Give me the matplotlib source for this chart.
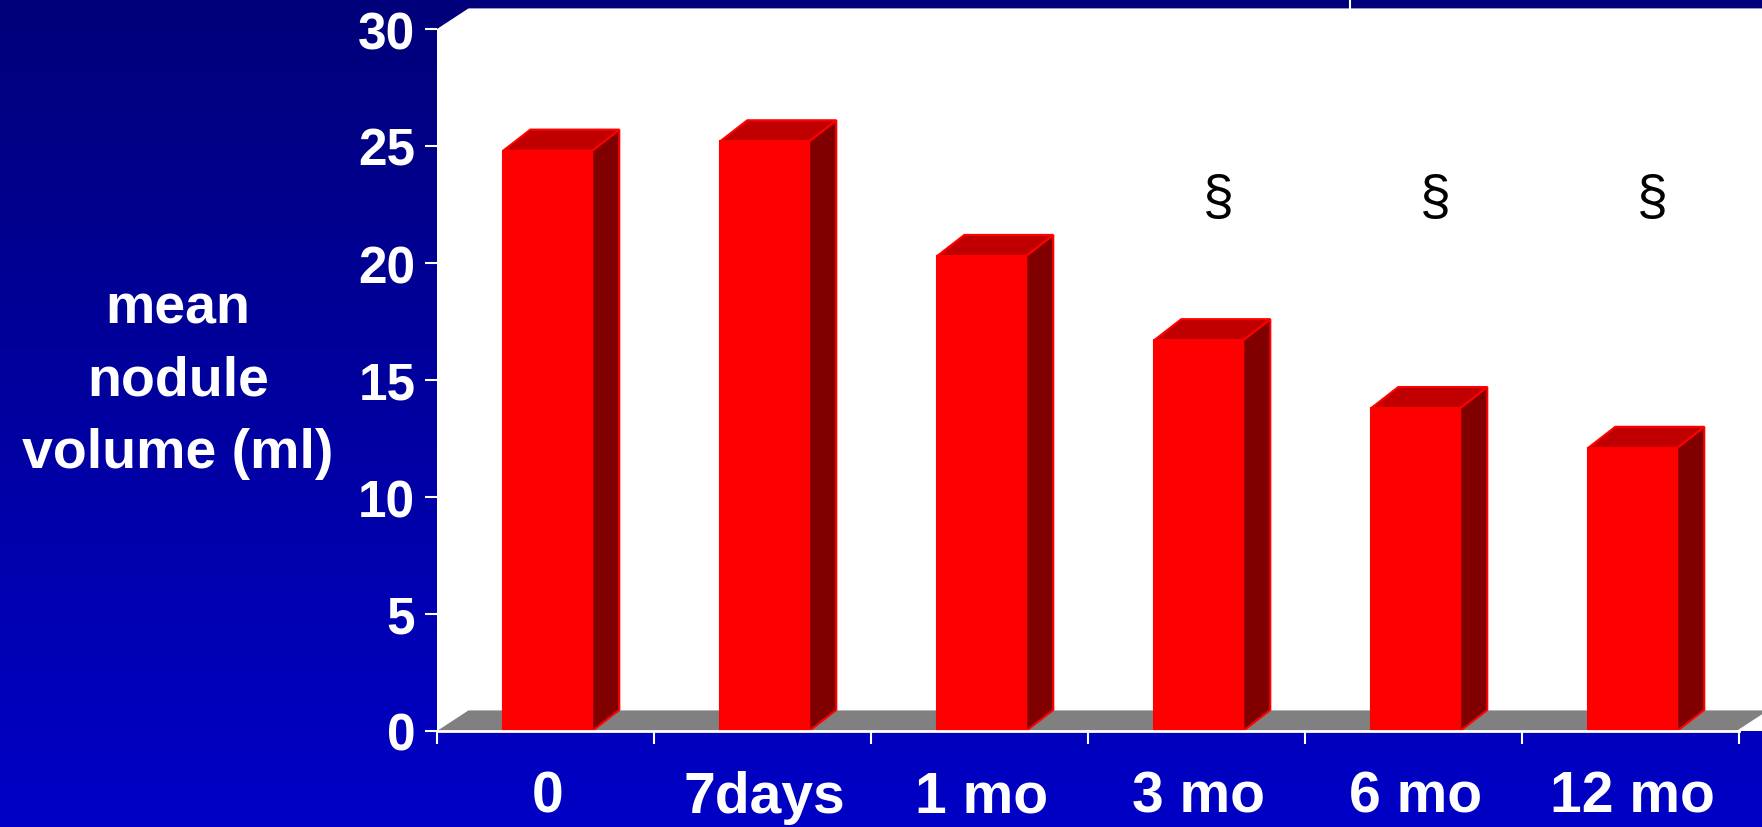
import numpy as np
import matplotlib.pyplot as plt
from matplotlib.patches import Polygon
from matplotlib.colors import LinearSegmentedColormap

categories = ['0', '7days', '1 mo', '3 mo', '6 mo', '12 mo']
volumes = [24.8, 25.2, 20.3, 16.7, 13.8, 12.1]
significant = [False, False, False, True, True, True]
y_ticks = [0, 5, 10, 15, 20, 25, 30]

plt.rcParams['font.family'] = ['Liberation Sans', 'DejaVu Sans']

# pseudo-3D offsets (data units)
WALL_DX, WALL_DY = 0.145, 0.88
BAR_DX, BAR_DY = 0.125, 0.9
BAR_LEFT, BAR_W = 0.305, 0.41

fig = plt.figure(figsize=(17.62, 8.28), dpi=100)

# slide background: dark navy fading to brighter blue
bg = fig.add_axes([0, 0, 1, 1], zorder=-10)
cmap = LinearSegmentedColormap.from_list('slide', ['#00007a', '#0000c6'])
bg.imshow(np.linspace(0, 1, 256).reshape(-1, 1), aspect='auto', cmap=cmap,
          extent=[0, 1, 0, 1], origin='upper')
bg.axis('off')
fig.add_artist(plt.Line2D([0.766, 0.766], [1.0, 1 - 9 / 828], color='white', lw=1.5))

ax = fig.add_axes([437 / 1762, 96 / 828, 1302 / 1762, 702 / 828])
ax.set_xlim(0, len(categories))
ax.set_ylim(0, 30)
ax.patch.set_visible(False)

n = len(categories)
# back wall and floor
ax.add_patch(Polygon([(0, 0), (0, 30), (WALL_DX, 30 + WALL_DY), (n + 1, 30 + WALL_DY), (n + 1, 0)],
                     closed=True, facecolor='white', edgecolor='none', zorder=0, clip_on=False))
ax.add_patch(Polygon([(0, 0), (n, 0), (n + WALL_DX, WALL_DY), (WALL_DX, WALL_DY)],
                     closed=True, facecolor='#808080', edgecolor='none', zorder=1, clip_on=False))
ax.plot([n, n + WALL_DX], [0, WALL_DY], color='white', lw=2, clip_on=False, zorder=1.5)

for i, (v, sig) in enumerate(zip(volumes, significant)):
    x0 = i + BAR_LEFT
    x1 = x0 + BAR_W
    front = [(x0, 0), (x1, 0), (x1, v), (x0, v)]
    top = [(x0, v), (x1, v), (x1 + BAR_DX, v + BAR_DY), (x0 + BAR_DX, v + BAR_DY)]
    side = [(x1, 0), (x1 + BAR_DX, BAR_DY), (x1 + BAR_DX, v + BAR_DY), (x1, v)]
    for pts, fc in [(side, '#800000'), (top, '#c00000'), (front, '#ff0000')]:
        ax.add_patch(Polygon(pts, closed=True, facecolor=fc, edgecolor='#ff0000',
                             lw=1.5, joinstyle='miter', zorder=2, clip_on=False))
    if sig:
        ax.text(i + 0.6, 22.75, '§', ha='center', va='center', fontsize=40,
                color='black', zorder=3)

for s in ['top', 'right', 'left']:
    ax.spines[s].set_visible(False)
ax.spines['bottom'].set_color('white')
ax.spines['bottom'].set_linewidth(2)
ax.spines['bottom'].set_zorder(4)

ax.set_yticks(y_ticks)
ax.tick_params(axis='y', colors='white', length=8.6, width=1.5, pad=7, labelsize=37)
ax.set_xticks([i + 0.51 for i in range(n)], categories)
ax.set_xticks(range(n + 1), minor=True)
ax.tick_params(axis='x', which='major', length=0, pad=28, labelsize=41, colors='white')
ax.tick_params(axis='x', which='minor', length=9.4, width=1.5, colors='white')
for lab in ax.get_xticklabels() + ax.get_yticklabels():
    lab.set_fontweight('bold')

fig.text(178 / 1762, 1 - 382 / 828, 'mean\nnodule\nvolume (ml)', ha='center', va='center',
         multialignment='center', fontsize=40, fontweight='bold', color='white',
         linespacing=1.5)

fig.savefig('out.png', dpi=100)
